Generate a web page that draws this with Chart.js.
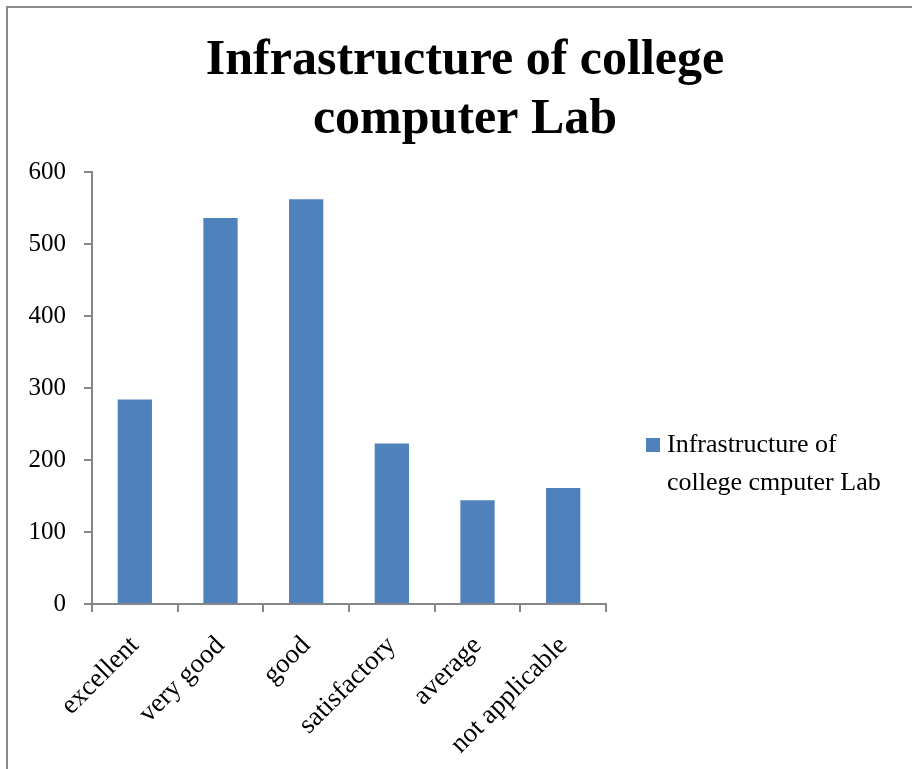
<!DOCTYPE html>
<html>
<head>
<meta charset="utf-8">
<script src="https://cdn.jsdelivr.net/npm/chart.js@4"></script>
<style>
	body { margin: 0; background: #fff; }
	#wrap { position: relative; width: 912px; height: 769px; }
	#frame { position: absolute; left: 6px; top: 6px; right: 0; bottom: 0; border-top: 2px solid #8c8c8c; border-left: 2px solid #8c8c8c; }
	canvas { position: absolute; left: 0; top: 0; }
</style>
</head>
<body>
<div id="wrap">
	<div id="frame"></div>
	<canvas id="chart" width="912" height="769"></canvas>
</div>
<script>
// values
var categories = ['excellent', 'very good', 'good', 'satisfactory', 'average', 'not applicable'];
var counts = [284, 536, 562, 223, 144, 161];
var yTicks = [0, 100, 200, 300, 400, 500, 600];
var titleLines = ['Infrastructure of college', 'computer Lab'];
var legendLines = ['Infrastructure of', 'college cmputer Lab'];

var serif = '"Liberation Serif", "Times New Roman", serif';
var axisGrey = '#868686';
var barBlue = '#4F81BD';

// legend drawn by hand so the label can wrap on two lines like the original
var sideLegend = {
	id: 'sideLegend',
	afterDraw: function(chart) {
		var ctx = chart.ctx;
		var ds = chart.data.datasets[0];
		ctx.save();
		ctx.fillStyle = ds.backgroundColor;
		ctx.fillRect(646, 438, 14, 14);
		ctx.fillStyle = '#000';
		ctx.font = '26px ' + serif;
		ctx.textBaseline = 'alphabetic';
		ctx.textAlign = 'left';
		legendLines.forEach(function(line, i) {
			ctx.fillText(line, 667, 452 + i * 38);
		});
		ctx.restore();
	}
};

var ctx = document.getElementById('chart').getContext('2d');
var chart = new Chart(ctx, {
	type: 'bar',
	data: {
		labels: categories,
		datasets: [{
			label: legendLines.join(' '),
			data: counts,
			backgroundColor: barBlue,
			borderWidth: 0,
			barPercentage: 0.4,
			categoryPercentage: 1
		}]
	},
	options: {
		responsive: false,
		animation: false,
		layout: { padding: { top: 8, left: 18, right: 0, bottom: 0 } },
		plugins: {
			legend: { display: false },
			tooltip: { enabled: false },
			title: {
				display: true,
				text: titleLines,
				color: '#000',
				font: { family: serif, size: 50, weight: 'bold', lineHeight: 1.17 },
				padding: { top: 24, bottom: 23 }
			}
		},
		scales: {
			x: {
				grid: { display: true, drawOnChartArea: false, drawTicks: true, tickLength: 8, color: axisGrey, lineWidth: 2 },
				border: { display: true, color: axisGrey, width: 2 },
				ticks: {
					color: '#000',
					font: { family: serif, size: 27 },
					minRotation: 45,
					maxRotation: 45,
					padding: 18
				},
				afterFit: function(scale) { scale.height = 165; }
			},
			y: {
				min: 0,
				max: 600,
				afterBuildTicks: function(scale) {
					scale.ticks = yTicks.map(function(v) { return { value: v }; });
				},
				grid: { display: true, drawOnChartArea: false, drawTicks: true, tickLength: 8, color: axisGrey, lineWidth: 2 },
				border: { display: true, color: axisGrey, width: 2 },
				ticks: {
					color: '#000',
					font: { family: serif, size: 25 },
					padding: 18
				},
				afterFit: function(scale) { scale.width = 74; }
			},
			// empty right-hand scale that reserves the room where the legend sits
			side: {
				type: 'linear',
				position: 'right',
				grid: { display: false },
				border: { display: false },
				ticks: { display: false },
				afterFit: function(scale) { scale.width = 306; }
			}
		}
	},
	plugins: [sideLegend]
});
</script>
</body>
</html>
